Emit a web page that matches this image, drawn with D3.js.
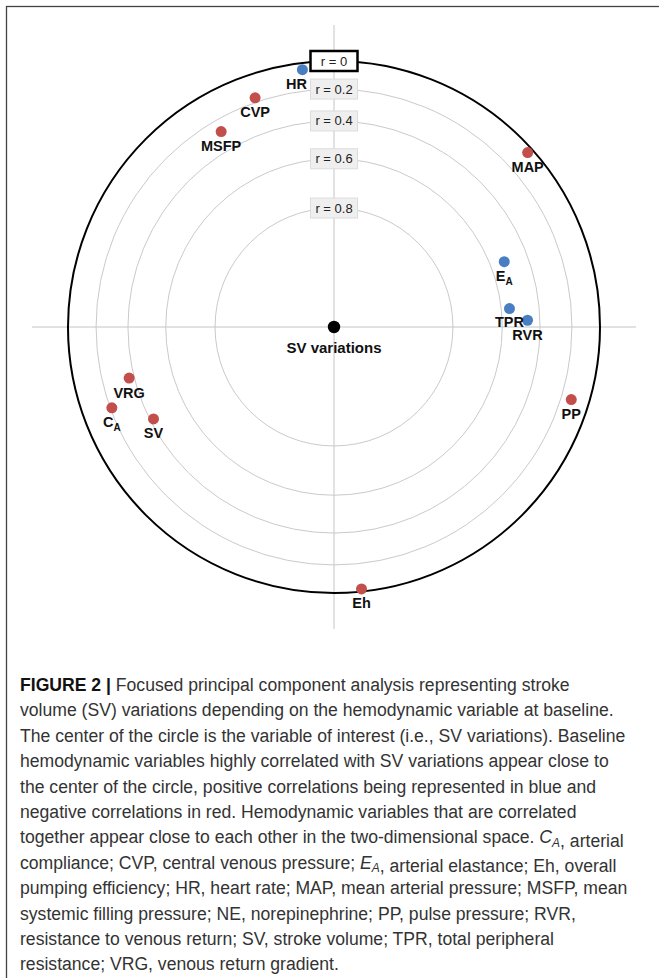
<!DOCTYPE html>
<html>
<head>
<meta charset="utf-8">
<script src="https://cdn.jsdelivr.net/npm/d3@7"></script>
<style>
  body { margin: 0; background: #fff; }
  svg { display: block; }
</style>
</head>
<body>
<div class="canvas"></div>
<script>
// ---- data ----
// variable names ("_" marks a subscript)
const variables = ['HR', 'CVP', 'MSFP', 'MAP', 'E_A', 'TPR', 'RVR', 'PP', 'Eh', 'SV', 'VRG', 'C_A'];
// correlation with SV variations (sign gives the colour)
const correlations = [0.05, -0.17, -0.28, -0.04, 0.53, 0.56, 0.47, -0.13, -0.02, -0.42, -0.37, -0.21];
// direction of each variable, degrees clockwise from the top
const angles = [-7, -19, -30, 48, 69, 84, 88, 107, 174, -117, -104, -110];
// reference circles
const ringTicks = [0, 0.2, 0.4, 0.6, 0.8];
const centerLabel = 'SV variations';

const captionLines = [
  '**FIGURE 2 |** Focused principal component analysis representing stroke',
  'volume (SV) variations depending on the hemodynamic variable at baseline.',
  'The center of the circle is the variable of interest (i.e., SV variations). Baseline',
  'hemodynamic variables highly correlated with SV variations appear close to',
  'the center of the circle, positive correlations being represented in blue and',
  'negative correlations in red. Hemodynamic variables that are correlated',
  'together appear close to each other in the two-dimensional space. %C_A%, arterial',
  'compliance; CVP, central venous pressure; %E_A%, arterial elastance; Eh, overall',
  'pumping efficiency; HR, heart rate; MAP, mean arterial pressure; MSFP, mean',
  'systemic filling pressure; NE, norepinephrine; PP, pulse pressure; RVR,',
  'resistance to venous return; SV, stroke volume; TPR, total peripheral',
  'resistance; VRG, venous return gradient.'
];

// ---- layout ----
const width = 659, height = 978;
const cx = 334, cy = 327, R = 266;
const axisHalf = 302;
const blue = '#4a7ec2', red = '#c24f4c';

const svg = d3.select('.canvas')
  .append('svg')
    .attr('width', width)
    .attr('height', height);

// outer frame of the figure panel
svg.append('rect')
  .attr('x', 6.5).attr('y', 6.5)
  .attr('width', 720).attr('height', 1000)
  .attr('fill', 'none')
  .attr('stroke', '#444')
  .attr('stroke-width', 1.3);

const graph = svg.append('g')
  .attr('transform', `translate(${cx}, ${cy})`);

// distance to centre grows with sqrt(1 - |r|)
const radius = d3.scaleSqrt().domain([0, 1]).range([0, R]);
const dist = r => radius(1 - Math.abs(r));
const rad = a => a * Math.PI / 180;

// cross lines
graph.append('line')
  .attr('x1', -axisHalf).attr('x2', axisHalf)
  .attr('y1', 0).attr('y2', 0)
  .attr('stroke', '#c4c4c4').attr('stroke-width', 1);
graph.append('line')
  .attr('x1', 0).attr('x2', 0)
  .attr('y1', -axisHalf).attr('y2', axisHalf)
  .attr('stroke', '#c4c4c4').attr('stroke-width', 1);

// rings
graph.selectAll('circle.ring')
  .data(ringTicks)
  .enter()
  .append('circle')
    .attr('class', 'ring')
    .attr('r', d => dist(d))
    .attr('fill', 'none')
    .attr('stroke', d => d === 0 ? '#000' : '#cacaca')
    .attr('stroke-width', d => d === 0 ? 2 : 1);

// ring labels
const ringLabels = graph.selectAll('g.ringLabel')
  .data(ringTicks)
  .enter()
  .append('g')
    .attr('class', 'ringLabel')
    .attr('transform', d => `translate(0, ${-dist(d)})`);

ringLabels.append('rect')
  .attr('x', -23.5).attr('y', -10)
  .attr('width', 47).attr('height', 20)
  .attr('fill', d => d === 0 ? '#fff' : '#efefef')
  .attr('stroke', d => d === 0 ? '#000' : '#dcdcdc')
  .attr('stroke-width', d => d === 0 ? 2.5 : 1);

ringLabels.append('text')
  .attr('text-anchor', 'middle')
  .attr('y', 4.5)
  .attr('font-family', 'Liberation Sans, Arial, sans-serif')
  .attr('font-size', 13)
  .attr('fill', '#222')
  .text(d => `r = ${d}`);

// centre point
graph.append('circle')
  .attr('r', 6.2)
  .attr('fill', '#000');
graph.append('text')
  .attr('text-anchor', 'middle')
  .attr('y', 25.5)
  .attr('font-family', 'Liberation Sans, Arial, sans-serif')
  .attr('font-weight', 'bold')
  .attr('font-size', 15)
  .attr('fill', '#111')
  .text(centerLabel);

// variables
const points = variables.map((name, i) => ({
  name,
  r: correlations[i],
  x: dist(correlations[i]) * Math.sin(rad(angles[i])),
  y: -dist(correlations[i]) * Math.cos(rad(angles[i]))
}));

// small label nudges as in the original (off the r = 0 box, off RVR)
const nudgeX = { HR: -6 };
const nudgeY = { TPR: -1 };

graph.selectAll('circle.var')
  .data(points)
  .enter()
  .append('circle')
    .attr('class', 'var')
    .attr('cx', d => d.x)
    .attr('cy', d => d.y)
    .attr('r', 5.5)
    .attr('fill', d => d.r >= 0 ? blue : red);

const labels = graph.selectAll('text.var')
  .data(points)
  .enter()
  .append('text')
    .attr('class', 'var')
    .attr('x', d => d.x + (nudgeX[d.name] || 0))
    .attr('y', d => d.y + 19.5 + (nudgeY[d.name] || 0))
    .attr('text-anchor', 'middle')
    .attr('font-family', 'Liberation Sans, Arial, sans-serif')
    .attr('font-weight', 'bold')
    .attr('font-size', 14.5)
    .attr('fill', '#111');

labels.each(function(d) {
  const parts = d.name.split('_');
  const t = d3.select(this);
  t.append('tspan').text(parts[0]);
  if (parts[1]) {
    t.append('tspan')
      .attr('font-size', 10)
      .attr('dy', 3.5)
      .text(parts[1]);
  }
});

// ---- caption ----
const caption = svg.append('g')
  .attr('font-family', 'Liberation Sans, Arial, sans-serif')
  .attr('font-size', 17.6)
  .attr('fill', '#333');

captionLines.forEach((line, i) => {
  const text = caption.append('text')
    .attr('x', 20)
    .attr('y', 691 + i * 25.4);
  // tokens: **bold**, %X_Y% italic with subscript
  line.split(/(\*\*.*?\*\*|%.*?%)/).filter(s => s.length).forEach(seg => {
    if (seg.startsWith('**')) {
      text.append('tspan').attr('font-weight', 'bold').attr('fill', '#111')
        .text(seg.slice(2, -2));
    } else if (seg.startsWith('%')) {
      const [main, sub] = seg.slice(1, -1).split('_');
      text.append('tspan').attr('font-style', 'italic').text(main);
      text.append('tspan').attr('font-style', 'italic')
        .attr('font-size', 12).attr('dy', 3.5).text(sub);
      text.append('tspan').attr('dy', -3.5).text('');
    } else {
      text.append('tspan').text(seg);
    }
  });
});
</script>
</body>
</html>
